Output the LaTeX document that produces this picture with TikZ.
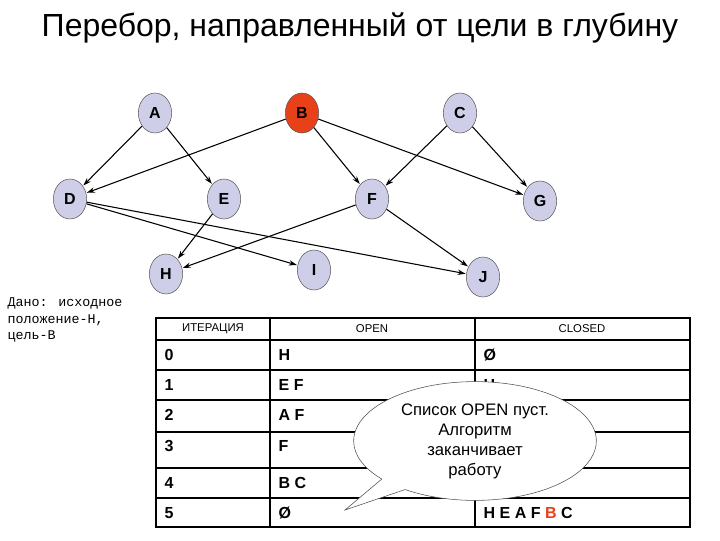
\documentclass[tikz,border=0pt]{standalone}
\usepackage{fontspec}
\setmainfont{Liberation Sans}
\newfontfamily\monof{Liberation Mono}
\usetikzlibrary{arrows.meta,shapes.callouts,shapes.geometric}
\definecolor{nodefill}{RGB}{206,206,232}
\definecolor{bred}{RGB}{232,64,24}
\begin{document}
\begin{tikzpicture}[x=0.75pt,y=-0.75pt,
  vert/.style={ellipse,draw=gray!70!black,fill=nodefill,minimum width=25pt,minimum height=30pt,inner sep=0pt,font=\bfseries\fontsize{12}{14}\selectfont},
  arr/.style={-{Stealth[length=6pt,width=4pt]},line width=0.8pt,shorten >=0.5pt},
  cell/.style={anchor=west,font=\bfseries\fontsize{12}{14}\selectfont},
  hd/.style={font=\fontsize{8.5}{10}\selectfont}]
\useasboundingbox (0,0) rectangle (720,540);
\node (title) at (360,28) {\fontsize{24}{28}\selectfont Перебор, направленный от цели в глубину};
\node[vert] (A) at (155,113) {A};
\node[vert,fill=bred] (B) at (302,113) {B};
\node[vert] (C) at (460,113) {C};
\node[vert] (D) at (70,199) {D};
\node[vert] (E) at (224,199) {E};
\node[vert] (F) at (372,199) {F};
\node[vert] (G) at (540,201) {G};
\node[vert] (H) at (166,274) {H};
\node[vert] (I) at (314,270) {I};
\node[vert] (J) at (483,277) {J};
\draw[arr] (A) -- (D);
\draw[arr] (A) -- (E);
\draw[arr] (B) -- (D);
\draw[arr] (B) -- (F);
\draw[arr] (B) -- (G);
\draw[arr] (C) -- (F);
\draw[arr] (C) -- (G);
\draw[arr] (D) -- (I);
\draw[arr] (D) -- (J);
\draw[arr] (E) -- (H);
\draw[arr] (F) -- (H);
\draw[arr] (F) -- (J);
\node[anchor=north west,align=left,font=\monof\fontsize{10}{12.5}\selectfont] (given) at (3,293) {Дано: исходное\\положение-Н,\\цель-В};
% table
\draw[line width=1.2pt] (156,318) rectangle (690,527);
\foreach \y in {340,370,400,432,468,498} \draw[line width=0.8pt] (156,\y) -- (690,\y);
\draw[line width=0.8pt] (270,318) -- (270,527);
\draw[line width=0.8pt] (475,318) -- (475,527);
\node[hd] (h1) at (213,329) {ИТЕРАЦИЯ};
\node[hd] (h2) at (372,329) {OPEN};
\node[hd] (h3) at (582,329) {CLOSED};
\node[cell] (r0) at (160,355) {0}; \node[cell] (o0) at (274,355) {H}; \node[cell] (c0) at (479,355) {Ø};
\node[cell] (r1) at (160,385) {1}; \node[cell] (o1) at (274,385) {E F}; \node[cell] (c1) at (479,385) {H};
\node[cell] (r2) at (160,415) {2}; \node[cell] (o2) at (274,415) {A F};
\node[cell] (r3) at (160,446) {3}; \node[cell] (o3) at (274,446) {F};
\node[cell] (r4) at (160,483) {4}; \node[cell] (o4) at (274,483) {B C}; \node[cell] (c4) at (479,483) {H E A F};
\node[cell] (r5) at (160,513) {5}; \node[cell] (o5) at (274,513) {Ø}; \node[cell] (c5) at (479,513) {H E A F \textcolor{bred}{B} C};
\node[ellipse callout,draw=gray!60!black,fill=white,minimum width=182pt,minimum height=80pt,
  callout absolute pointer={(345,510)},align=center,font=\fontsize{12.5}{15}\selectfont] (call) at (475,441)
  {Список OPEN пуст.\\Алгоритм\\заканчивает\\работу};
\end{tikzpicture}
\end{document}
